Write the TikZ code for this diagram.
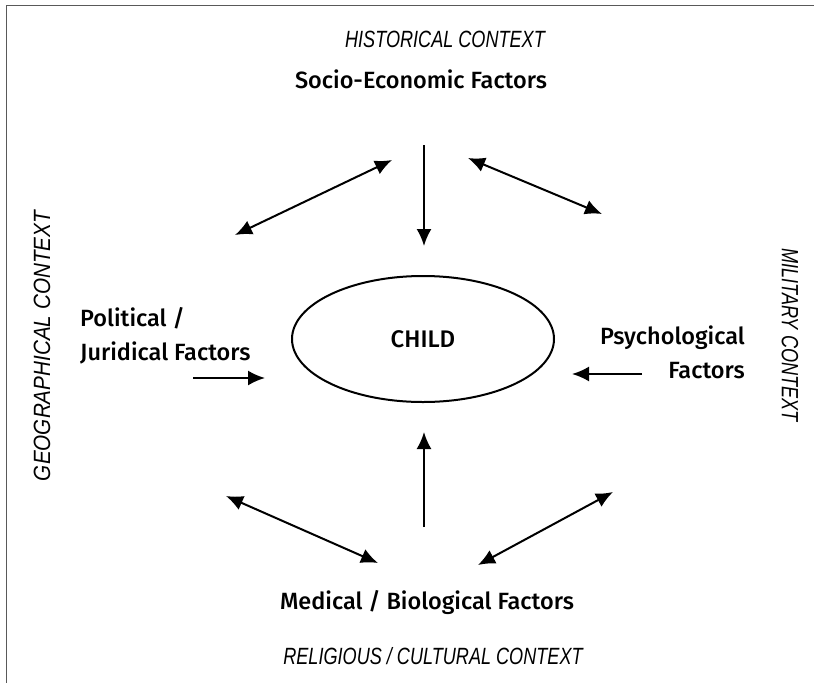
\documentclass[tikz,border=0pt]{standalone}
\usepackage{fontspec}
\setmainfont{Fira Sans}[UprightFont=* Medium]
\newfontfamily\ctxfont{Liberation Sans}[FakeStretch=0.77]
\newfontfamily\geofont{Liberation Sans}[FakeStretch=0.88]
\usetikzlibrary{positioning,shapes.geometric,arrows.meta}

\begin{document}
\begin{tikzpicture}[
        x=1pt, y=-1pt,
        % define styles
        factor/.style={
            font=\fontsize{23.5}{34}\selectfont,
            inner sep=0pt
        },
        context/.style={
            font=\ctxfont\itshape\fontsize{23.5}{25}\selectfont,
            inner sep=0pt
        },
        link/.style={
            line width=2pt,
            -{Latex[length=17pt,width=15pt]}
        },
        both/.style={
            link,
            {Latex[length=17pt,width=15pt]}-{Latex[length=17pt,width=15pt]}
        }
    ]
    \useasboundingbox (0,0) rectangle (814,683);
    % frame
    \draw[gray!70!black, line width=0.8pt] (814,5) -- (6,5) -- (6,683);

    % contexts
    \node[context] (hist) at (445,39) {HISTORICAL CONTEXT};
    \node[context] (relig) at (433,656) {RELIGIOUS / CULTURAL CONTEXT};
    \node[context, font=\geofont\itshape\fontsize{23.5}{25}\selectfont, rotate=90] (geo) at (42,346) {GEOGRAPHICAL CONTEXT};
    \node[context, rotate=-90] (mil) at (790,335) {MILITARY CONTEXT};

    % factors
    \node[factor] (socio) at (421,79) {Socio-Economic Factors};
    \node[factor, align=left, anchor=west] (polit) at (80,336) {Political /\\Juridical Factors};
    \node[factor, align=right, anchor=east] (psych) at (745,352) {Psychological\\Factors};
    \node[factor] (medic) at (427,603) {Medical / Biological Factors};

    % child
    \node[draw, ellipse, line width=2pt, minimum width=262pt, minimum height=126pt,
          font=\fontsize{24}{25}\selectfont] (child) at (423,339) {CHILD};

    % free ends of the arrows
    \coordinate (s1) at (392,160);  \coordinate (s2) at (235,235);
    \coordinate (s3) at (424,145);  \coordinate (s4) at (424,246);
    \coordinate (s5) at (468,158);  \coordinate (s6) at (602,214);
    \coordinate (p1) at (193,378);  \coordinate (p2) at (265,378);
    \coordinate (q1) at (642,374);  \coordinate (q2) at (572,374);
    \coordinate (m1) at (424,527);  \coordinate (m2) at (424,432);
    \coordinate (m3) at (378,563);  \coordinate (m4) at (226,496);
    \coordinate (m5) at (478,565);  \coordinate (m6) at (613,492);

    \draw[both] (s2) -- (s1);
    \draw[link] (s3) -- (s4);
    \draw[both] (s5) -- (s6);
    \draw[link] (p1) -- (p2);
    \draw[link] (q1) -- (q2);
    \draw[link] (m1) -- (m2);
    \draw[both] (m4) -- (m3);
    \draw[both] (m5) -- (m6);
\end{tikzpicture}
\end{document}
